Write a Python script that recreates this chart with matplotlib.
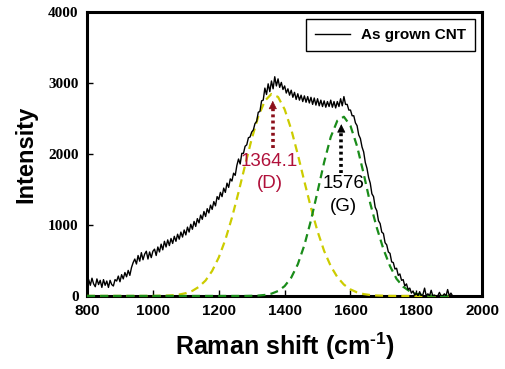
import numpy as np
import matplotlib
matplotlib.use("Agg")
import matplotlib.pyplot as plt

# Raman spectrum of as-grown CNT (5 cm-1 steps)
shift = np.arange(800, 1915, 5)
intensity = [
    100, 230, 150, 250, 170, 130, 240, 160, 220, 120,
    230, 150, 210, 120, 220, 160, 140, 230, 210, 280,
    200, 300, 240, 330, 270, 360, 290, 400, 470, 520,
    450, 570, 490, 610, 510, 590, 630, 520, 620, 540,
    630, 660, 570, 690, 620, 730, 650, 770, 690, 790,
    710, 810, 740, 840, 770, 870, 800, 900, 830, 930,
    860, 970, 900, 1010, 940, 1050, 980, 1090, 1030, 1140,
    1080, 1190, 1120, 1230, 1170, 1280, 1220, 1330, 1270, 1400,
    1360, 1460, 1400, 1520, 1460, 1590, 1530, 1650, 1620, 1730,
    1700, 1840, 1930, 1860, 2010, 2010, 2110, 2130, 2230, 2240,
    2310, 2340, 2430, 2460, 2590, 2600, 2750, 2760, 2930, 2840,
    2990, 2880, 3030, 2920, 3090, 2960, 3060, 2940, 3010, 2910,
    2960, 2860, 2920, 2830, 2900, 2800, 2870, 2770, 2850, 2760,
    2830, 2740, 2820, 2730, 2810, 2720, 2800, 2700, 2790, 2690,
    2780, 2680, 2760, 2670, 2750, 2660, 2740, 2670, 2760, 2660,
    2740, 2650, 2740, 2670, 2780, 2680, 2810, 2700, 2700, 2620,
    2620, 2540, 2540, 2440, 2400, 2270, 2220, 2100, 2030, 1880,
    1800, 1670, 1590, 1440, 1400, 1250, 1200, 1060, 1020, 900,
    880, 750, 720, 620, 600, 480, 470, 380, 390, 290,
    310, 220, 230, 140, 170, 90, 110, 40, 70, 10,
    40, 0, 60, 0, 20, 110, 0, 30, 0, 80,
    0, 10, 0, 0, 50, 0, 0, 30, 0, 90,
    0, 40, 0,
]

# fitted peaks (20 cm-1 steps)
fit_shift = np.arange(800, 1920, 20)
d_band = [
    0, 0, 0, 0, 0, 0, 0, 0, 0, 0,
    0, 2, 4, 9, 20, 39, 72, 129, 218, 353,
    542, 792, 1103, 1461, 1843, 2213, 2529, 2750, 2847, 2805,
    2631, 2349, 1995, 1613, 1242, 910, 634, 421, 266, 160,
    92, 50, 26, 13, 6, 3, 1, 0, 0, 0,
    0, 0, 0, 0, 0, 0,
]
g_band = [
    0, 0, 0, 0, 0, 0, 0, 0, 0, 0,
    0, 0, 0, 0, 0, 0, 0, 0, 0, 0,
    0, 0, 0, 0, 0, 2, 5, 14, 32, 69,
    138, 258, 446, 716, 1066, 1471, 1885, 2240, 2470, 2526,
    2397, 2110, 1723, 1305, 960, 660, 420, 240, 130, 65,
    30, 12, 4, 1, 0, 0,
]

plt.rcParams['font.family'] = ['Liberation Sans', 'DejaVu Sans']
plt.rcParams['mathtext.fontset'] = 'custom'
plt.rcParams['mathtext.bf'] = 'Liberation Sans:bold'
plt.rcParams['mathtext.rm'] = 'Liberation Sans:bold'

fig = plt.figure(figsize=(5.06, 3.69), dpi=100)
ax = fig.add_axes([0.172, 0.198, 0.781, 0.769])

ax.plot(fit_shift, d_band, color='#cccc00', lw=1.6, ls=(0, (3.6, 2.3)), clip_on=False, zorder=3)
ax.plot(fit_shift, g_band, color='#1a8c1a', lw=1.6, ls=(0, (3.6, 2.3)), clip_on=False, zorder=3)
ax.plot(shift, intensity, color='black', lw=1.0, label='As grown CNT', zorder=4)

# dotted arrows marking the peak positions
ax.plot([1364, 1364], [2080, 2650], color='#8b0f1a', lw=2.6, ls=(0, (0.8, 0.9)), zorder=5)
ax.annotate('', xy=(1364, 2790), xytext=(1364, 2640),
            arrowprops=dict(arrowstyle='-|>', color='#8b0f1a', lw=0.5, mutation_scale=13), zorder=5)
ax.plot([1572, 1572], [1740, 2330], color='black', lw=2.6, ls=(0, (0.8, 0.9)), zorder=5)
ax.annotate('', xy=(1572, 2460), xytext=(1572, 2320),
            arrowprops=dict(arrowstyle='-|>', color='black', lw=0.5, mutation_scale=13), zorder=5)

ax.text(1354, 1890, '1364.1', color='#b0103a', fontsize=13.5, ha='center', va='center', zorder=6)
ax.text(1354, 1580, '(D)', color='#b0103a', fontsize=13.5, ha='center', va='center', zorder=6)
ax.text(1580, 1580, '1576', color='black', fontsize=13.5, ha='center', va='center', zorder=6)
ax.text(1580, 1255, '(G)', color='black', fontsize=13.5, ha='center', va='center', zorder=6)

ax.set_xlim(800, 2000)
ax.set_ylim(0, 4000)
ax.set_xticks(np.arange(800, 2001, 200))
ax.set_yticks(np.arange(0, 4001, 1000))
ax.tick_params(direction='in', length=4, width=1, pad=6)
for lab in ax.get_xticklabels():
    lab.set_fontweight('bold')
    lab.set_fontsize(11)
for lab in ax.get_yticklabels():
    lab.set_fontweight('bold')
    lab.set_fontsize(11)
    lab.set_family('Liberation Serif')
for sp in ax.spines.values():
    sp.set_linewidth(2.2)

ax.set_xlabel(r'Raman shift (cm$^{\text{-}1}$)', fontsize=18, fontweight='bold', labelpad=9)
ax.set_ylabel('Intensity', fontsize=17, fontweight='bold', labelpad=8)

leg = ax.legend(loc='upper right', fancybox=False, edgecolor='black', framealpha=1,
                prop={'weight': 'bold', 'size': 11}, handlelength=2.3, handletextpad=0.7,
                borderpad=0.6, borderaxespad=0.45)
leg.get_frame().set_linewidth(1)

plt.savefig('out.png', dpi=100)
